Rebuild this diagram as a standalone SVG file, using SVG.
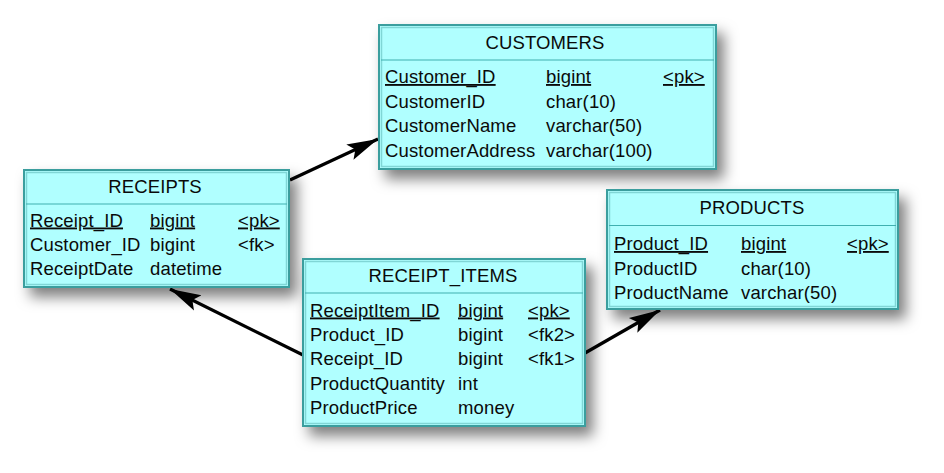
<svg xmlns="http://www.w3.org/2000/svg" width="944" height="473" viewBox="0 0 944 473">
<defs>
<style>
.box{fill:#b0ffff;stroke:#3a9e9e;stroke-width:2}
.inner{fill:none;stroke:#80d6d6;stroke-width:1.5}
.div{stroke:#3fb0b0;stroke-width:1.2}
text{font-family:"Liberation Sans",Arial,sans-serif;font-size:18.5px;letter-spacing:0.15px;fill:#0a0a0a}
.h{text-anchor:middle}
.u{text-decoration:underline}
.conn{stroke:#000;stroke-width:3.2;fill:none}
</style>
<filter id="sh" x="-20%" y="-20%" width="150%" height="170%">
<feDropShadow dx="7" dy="9" stdDeviation="7" flood-color="#000" flood-opacity="0.5"/>
</filter>
<marker id="ah" markerUnits="userSpaceOnUse" markerWidth="34" markerHeight="22" refX="31" refY="11" orient="auto">
<path d="M0,2.5 L31,11 L0,19.5 L6,11 Z" fill="#000"/>
</marker>
</defs>
<rect width="944" height="473" fill="#fff"/>
<g id="connectors">
<line class="conn" x1="290" y1="180" x2="378" y2="139" marker-end="url(#ah)"/>
<line class="conn" x1="303" y1="355" x2="170" y2="289" marker-end="url(#ah)"/>
<line class="conn" x1="585" y1="353" x2="660" y2="310" marker-end="url(#ah)"/>
</g>
<g id="customers">
<rect class="box" x="379" y="25" width="337" height="144" filter="url(#sh)"/>
<rect class="inner" x="381.5" y="27.5" width="332" height="139"/>
<line class="div" x1="381" y1="60" x2="714" y2="60"/>
<text class="h" x="545" y="49">CUSTOMERS</text>
<text class="u" x="385" y="83">Customer_ID</text><text class="u" x="546" y="83">bigint</text><text class="u" x="663" y="83">&lt;pk&gt;</text>
<text x="385" y="107.5">CustomerID</text><text x="546" y="107.5">char(10)</text>
<text x="385" y="132">CustomerName</text><text x="546" y="132">varchar(50)</text>
<text x="385" y="156.5">CustomerAddress</text><text x="546" y="156.5">varchar(100)</text>
</g>
<g id="receipts">
<rect class="box" x="24" y="170" width="265" height="117" filter="url(#sh)"/>
<rect class="inner" x="26.5" y="172.5" width="260" height="112"/>
<line class="div" x1="26" y1="204" x2="287" y2="204"/>
<text class="h" x="155" y="193">RECEIPTS</text>
<text class="u" x="30" y="226.5">Receipt_ID</text><text class="u" x="150" y="226.5">bigint</text><text class="u" x="238" y="226.5">&lt;pk&gt;</text>
<text x="30" y="250.5">Customer_ID</text><text x="150" y="250.5">bigint</text><text x="238" y="250.5">&lt;fk&gt;</text>
<text x="30" y="275">ReceiptDate</text><text x="150" y="275">datetime</text>
</g>
<g id="receipt_items">
<rect class="box" x="303" y="259" width="282" height="167" filter="url(#sh)"/>
<rect class="inner" x="305.5" y="261.5" width="277" height="162"/>
<line class="div" x1="305" y1="293" x2="583" y2="293"/>
<text class="h" x="443" y="282">RECEIPT_ITEMS</text>
<text class="u" x="310" y="316.5">ReceiptItem_ID</text><text class="u" x="458" y="316.5">bigint</text><text class="u" x="528" y="316.5">&lt;pk&gt;</text>
<text x="310" y="340.5">Product_ID</text><text x="458" y="340.5">bigint</text><text x="528" y="340.5">&lt;fk2&gt;</text>
<text x="310" y="365">Receipt_ID</text><text x="458" y="365">bigint</text><text x="528" y="365">&lt;fk1&gt;</text>
<text x="310" y="389.5">ProductQuantity</text><text x="458" y="389.5">int</text>
<text x="310" y="414">ProductPrice</text><text x="458" y="414">money</text>
</g>
<g id="products">
<rect class="box" x="607" y="190" width="291" height="119" filter="url(#sh)"/>
<rect class="inner" x="609.5" y="192.5" width="286" height="114"/>
<line class="div" x1="609" y1="225.5" x2="896" y2="225.5"/>
<text class="h" x="752" y="214">PRODUCTS</text>
<text class="u" x="614" y="250">Product_ID</text><text class="u" x="741" y="250">bigint</text><text class="u" x="847" y="250">&lt;pk&gt;</text>
<text x="614" y="274.5">ProductID</text><text x="741" y="274.5">char(10)</text>
<text x="614" y="299">ProductName</text><text x="741" y="299">varchar(50)</text>
</g>
</svg>
